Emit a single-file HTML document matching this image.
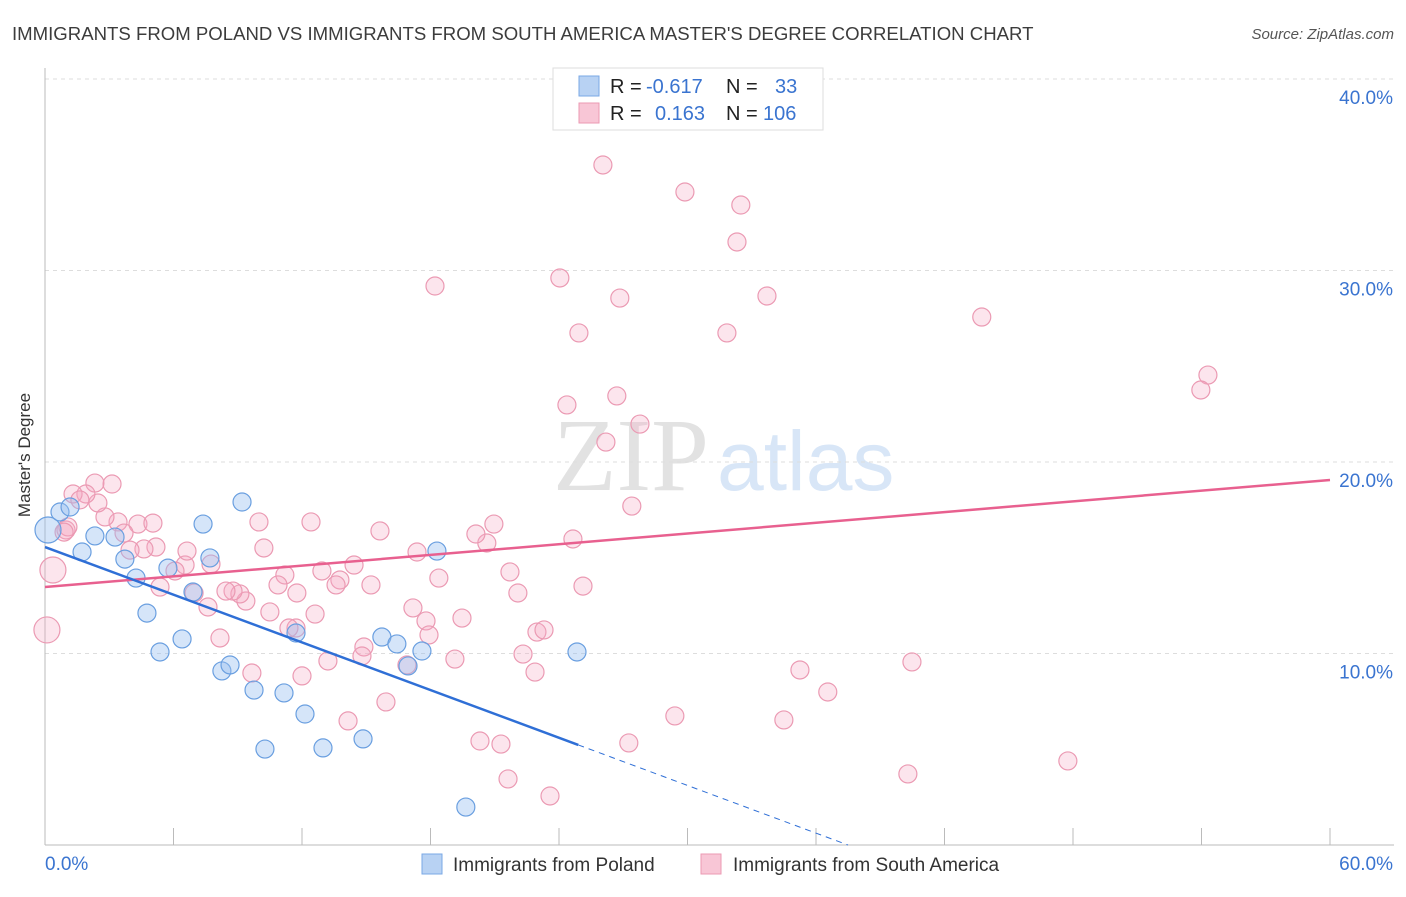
<!DOCTYPE html>
<html><head><meta charset="utf-8"><style>
body{margin:0;background:#fff;font-family:"Liberation Sans",sans-serif;}
svg text{font-family:"Liberation Sans",sans-serif;}
</style></head><body>
<svg id="chart" width="1406" height="892" xmlns="http://www.w3.org/2000/svg">
<text x="12" y="40" font-size="18.6" fill="#3c3c3c">IMMIGRANTS FROM POLAND VS IMMIGRANTS FROM SOUTH AMERICA MASTER'S DEGREE CORRELATION CHART</text>
<text x="1394" y="39" font-size="15" fill="#555" text-anchor="end" font-style="italic">Source: ZipAtlas.com</text>
<text x="30" y="455" font-size="17" fill="#333" text-anchor="middle" transform="rotate(-90 30 455)">Master's Degree</text>
<g><text x="553" y="490" font-size="104" fill="#e2e2e2" style="font-family:'Liberation Serif',serif">ZIP</text><text x="717" y="490" font-size="84" fill="#d8e6f7">atlas</text></g>
<g id="grid"></g><g id="axes"></g><g id="marks"></g><g id="trends"></g>
<g>
<rect x="553" y="68" width="270" height="62" fill="#fff" stroke="#ddd"/>
<rect x="579" y="76" width="20" height="20" fill="#b8d2f3" stroke="#7aa8e6"/>
<rect x="579" y="103" width="20" height="20" fill="#f8c6d6" stroke="#eb9ab3"/>
<text x="610" y="93" font-size="20" fill="#222">R =</text><text x="646" y="93" font-size="20" fill="#3a74d0">-0.617</text>
<text x="726" y="93" font-size="20" fill="#222">N =</text><text x="775" y="93" font-size="20" fill="#3a74d0">33</text>
<text x="610" y="120" font-size="20" fill="#222">R =</text><text x="655" y="120" font-size="20" fill="#3a74d0">0.163</text>
<text x="726" y="120" font-size="20" fill="#222">N =</text><text x="763" y="120" font-size="20" fill="#3a74d0">106</text>
</g>
<g>
<rect x="422" y="854" width="20" height="20" fill="#b8d2f3" stroke="#7aa8e6"/>
<text x="453" y="871" font-size="19" fill="#333">Immigrants from Poland</text>
<rect x="701" y="854" width="20" height="20" fill="#f8c6d6" stroke="#eb9ab3"/>
<text x="733" y="871" font-size="19" fill="#333">Immigrants from South America</text>
</g>
</svg>
<script>
const yTicks=[10,20,30,40];
const yTickLabels=["10.0%","20.0%","30.0%","40.0%"];
const xTicks=[0,6,12,18,24,30,36,42,48,54,60];
const blueX=[0.14,0.70,1.17,1.73,2.33,3.27,3.73,4.25,4.76,5.37,5.74,6.40,6.91,7.38,7.70,8.26,8.64,9.20,9.76,10.27,11.16,11.72,12.14,12.98,14.85,15.73,16.43,16.95,17.60,18.30,19.65,24.84];
const blueY=[16.45,17.39,17.65,15.30,16.14,16.08,14.93,13.94,12.11,10.08,14.46,10.76,13.21,16.76,14.99,9.09,9.40,17.91,8.09,5.01,7.94,11.07,6.84,5.07,5.54,10.86,10.50,9.35,10.13,15.35,1.98,10.08];
const pinkX=[26.05,29.88,32.49,32.31,24.04,18.21,26.84,33.71,24.93,31.84,43.74,54.30,53.97,26.70,24.37,27.78,26.19,27.40,24.65,25.12,20.96,20.63,20.12,17.37,18.39,21.71,22.08,19.47,17.18,17.79,17.93,14.89,14.80,16.90,19.14,22.32,22.88,22.97,23.30,20.31,21.29,21.62,23.58,27.26,29.41,34.50,35.25,36.55,40.48,40.29,47.76,15.64,14.43,15.22,13.77,13.59,12.93,12.42,12.61,11.72,11.76,12.00,13.21,14.15,15.92,11.39,11.20,10.88,10.22,9.99,10.50,9.38,9.10,8.78,8.45,9.66,8.17,7.61,7.75,6.96,6.54,6.63,6.07,5.37,5.18,4.62,3.97,4.34,5.04,3.41,3.69,2.80,2.47,3.13,2.33,1.91,1.31,1.63,0.98,1.07,0.37,0.09,0.89];
const pinkY=[35.51,34.10,33.42,31.49,29.61,29.19,28.56,28.67,26.74,26.74,27.57,24.54,23.76,23.45,22.98,21.98,21.04,17.70,15.98,13.52,16.76,15.77,16.24,15.30,13.94,14.26,13.16,11.85,12.38,11.70,10.97,10.34,9.87,9.40,9.71,9.97,9.03,11.12,11.23,5.43,5.27,3.45,2.56,5.33,6.74,6.53,9.14,7.99,9.56,3.71,4.39,16.40,14.62,13.58,13.84,13.58,14.31,16.87,12.06,11.33,13.16,8.83,9.61,6.48,7.47,11.33,14.10,13.58,15.51,16.87,12.17,12.74,13.11,13.26,13.26,8.98,10.81,12.43,14.67,13.16,14.62,15.35,14.31,13.47,15.56,15.46,15.40,16.76,16.81,16.87,16.29,17.13,17.86,18.85,18.90,18.33,18.33,18.02,16.45,16.61,14.36,11.23,16.34];
const blueBig=[0];
const pinkBig=[100,101];
const blueTrend=[15.56,-0.415];
const pinkTrend=[13.47,0.0932];
const X=v=>45+v*1285/60;
const Y=v=>845-v*19.15;
const NS="http://www.w3.org/2000/svg";
function mk(parent,tag,attrs){const e=document.createElementNS(NS,tag);for(const k in attrs)e.setAttribute(k,attrs[k]);document.getElementById(parent).appendChild(e);return e;}
yTicks.forEach((t,i)=>{
 const l=mk('grid','line',{x1:45,x2:1394,y1:Y(t),y2:Y(t),stroke:'#ddd','stroke-dasharray':'4 4'});
 
 
 const tx=mk('grid','text',{x:1393,y:Y(t)+25,'font-size':19,fill:'#3a74d0','text-anchor':'end'});
 tx.textContent=yTickLabels[i];
 
 
});
const topLine=mk('grid','line',{x1:45,x2:1394,y1:79,y2:79,stroke:'#ddd','stroke-dasharray':'4 4'});


const ax=mk('axes','line',{x1:45,x2:45,y1:68,y2:845,stroke:'#bbb'});


const bx=mk('axes','line',{x1:45,x2:1394,y1:845,y2:845,stroke:'#bbb'});


xTicks.forEach(t=>{
 const l=mk('axes','line',{x1:X(t),x2:X(t),y1:828,y2:845,stroke:'#bbb'});
 
 
});
const xl0=mk('axes','text',{x:45,y:870,'font-size':19,fill:'#3a74d0'});xl0.textContent='0.0%';


const xl1=mk('axes','text',{x:1393,y:870,'font-size':19,fill:'#3a74d0','text-anchor':'end'});xl1.textContent='60.0%';


pinkX.forEach((x,i)=>{
 const c=mk('marks','circle',{cx:X(x),cy:Y(pinkY[i]),r:pinkBig.includes(i)?13:9,fill:'rgba(246,170,196,0.3)',stroke:'#eb9ab3','stroke-width':1.2});
 
 
});
blueX.forEach((x,i)=>{
 const c=mk('marks','circle',{cx:X(x),cy:Y(blueY[i]),r:blueBig.includes(i)?13:9,fill:'rgba(150,190,240,0.4)',stroke:'#6a9fe0','stroke-width':1.2});
 
 
});
const pl=mk('trends','line',{x1:X(0),y1:Y(pinkTrend[0]),x2:X(60),y2:Y(pinkTrend[0]+pinkTrend[1]*60),stroke:'#e8608f','stroke-width':2.5});


const bEnd=24.9, bZero=-blueTrend[0]/blueTrend[1];
const bl=mk('trends','line',{x1:X(0),y1:Y(blueTrend[0]),x2:X(bEnd),y2:Y(blueTrend[0]+blueTrend[1]*bEnd),stroke:'#2f6fd6','stroke-width':2.5});


const bd=mk('trends','line',{x1:X(bEnd),y1:Y(blueTrend[0]+blueTrend[1]*bEnd),x2:X(bZero),y2:Y(0),stroke:'#2f6fd6','stroke-width':1,'stroke-dasharray':'6 5'});


</script>
</body></html>
